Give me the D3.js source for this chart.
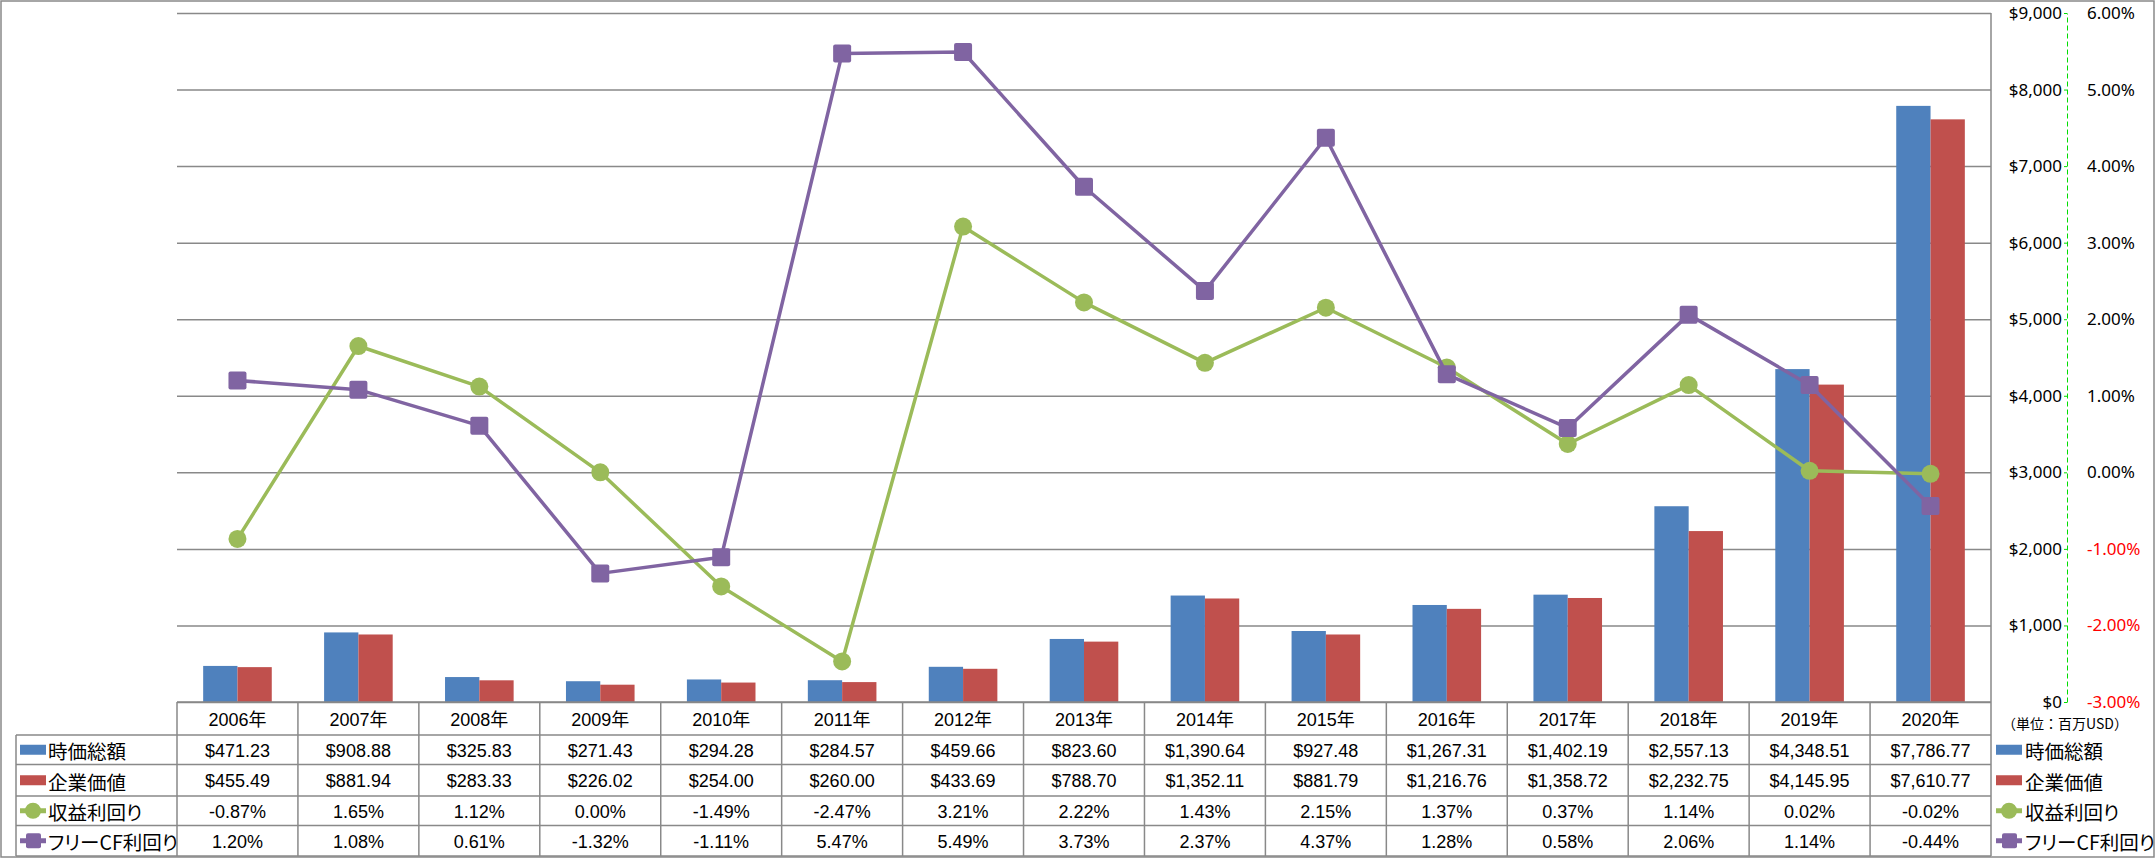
<!DOCTYPE html>
<html><head><meta charset="utf-8">
<script src="https://cdn.jsdelivr.net/npm/d3@7"></script>
<style>body{margin:0;background:#fff} svg{display:block}</style>
</head><body><svg id="c" width="2156" height="858"></svg>
<script>
const categories = ["2006年","2007年","2008年","2009年","2010年","2011年","2012年","2013年","2014年","2015年","2016年","2017年","2018年","2019年","2020年"];
const marketCap = [471.23,908.88,325.83,271.43,294.28,284.57,459.66,823.60,1390.64,927.48,1267.31,1402.19,2557.13,4348.51,7786.77];
const enterpriseValue = [455.49,881.94,283.33,226.02,254.00,260.00,433.69,788.70,1352.11,881.79,1216.76,1358.72,2232.75,4145.95,7610.77];
const earningsYield = [-0.87,1.65,1.12,0.00,-1.49,-2.47,3.21,2.22,1.43,2.15,1.37,0.37,1.14,0.02,-0.02];
const fcfYield = [1.20,1.08,0.61,-1.32,-1.11,5.47,5.49,3.73,2.37,4.37,1.28,0.58,2.06,1.14,-0.44];
const seriesNames = ["時価総額","企業価値","収益利回り","フリーCF利回り"];
const dollarTicks = [0,1000,2000,3000,4000,5000,6000,7000,8000,9000];
const pctTicks = [-3,-2,-1,0,1,2,3,4,5,6];
const unitLabel = "（単位：百万USD）";

const colors = {mc:"#4F81BD", ev:"#C0504D", ey:"#9BBB59", fcf:"#8064A2"};
const gridColor = "#898989";
const svg = d3.select("#c");
const L=177, R=1991, T=13, B=702;
const rowsY = [702, 735, 764.5, 796, 825.5, 856];
const latin = "'Liberation Sans', 'Noto Sans CJK JP', sans-serif";
const cjk = "'Noto Sans CJK JP', sans-serif";

const loc = d3.formatLocale({decimal:".", thousands:",", grouping:[3], currency:["$",""], minus:"-"});
const fmtD = loc.format("$,.2f");
const fmtP = loc.format(".2%");
const fmtAx = loc.format("$,");

const x = d3.scaleBand().domain(categories).range([L,R]).padding(0);
const xi = d3.scaleBand().domain(["mc","ev"]).range([0,x.bandwidth()]).paddingInner(0).paddingOuter(0.763);
const y = d3.scaleLinear().domain([0,9000]).range([B,T]);
const y2 = d3.scaleLinear().domain([-3,6]).range([B,T]);
const cx = d => x(d) + x.bandwidth()/2;

// outer border
svg.append("rect").attr("x",1).attr("y",1).attr("width",2153).attr("height",856)
  .attr("fill","#fff").attr("stroke",gridColor).attr("stroke-width",1.5);

// gridlines
const grid = svg.append("g").attr("transform",`translate(${L},0)`)
  .call(d3.axisLeft(y).tickValues(dollarTicks).tickSize(-(R-L)).tickFormat(""));
grid.select(".domain").remove();
grid.selectAll("line").attr("stroke",gridColor).attr("stroke-width",1.5);

// right plot border
svg.append("line").attr("x1",R).attr("x2",R).attr("y1",T).attr("y2",rowsY[5])
  .attr("stroke",gridColor).attr("stroke-width",1.5);

// bars
const barData = categories.map((c,i)=>({c, mc:marketCap[i], ev:enterpriseValue[i]}));
const bg = svg.append("g");
["mc","ev"].forEach(k=>{
  bg.selectAll(null).data(barData).enter().append("rect")
    .attr("x",d=>x(d.c)+xi(k)).attr("width",xi.bandwidth())
    .attr("y",d=>y(d[k])).attr("height",d=>B-y(d[k]))
    .attr("fill",colors[k]);
});

// lines
function drawLine(vals,color,marker){
  const pts = categories.map((c,i)=>({c,v:vals[i]}));
  const g = svg.append("g");
  g.append("path").datum(pts)
    .attr("d",d3.line().x(d=>cx(d.c)).y(d=>y2(d.v)))
    .attr("fill","none").attr("stroke",color).attr("stroke-width",3.5).attr("stroke-linejoin","round");
  if(marker==="circle"){
    g.selectAll(null).data(pts).enter().append("circle")
      .attr("cx",d=>cx(d.c)).attr("cy",d=>y2(d.v)).attr("r",9).attr("fill",color);
  } else {
    g.selectAll(null).data(pts).enter().append("rect")
      .attr("x",d=>cx(d.c)-9).attr("y",d=>y2(d.v)-9).attr("width",18).attr("height",18)
      .attr("rx",2).attr("fill",color);
  }
}
drawLine(earningsYield,colors.ey,"circle");
drawLine(fcfYield,colors.fcf,"square");

// table lines
const tl = svg.append("g").attr("stroke",gridColor).attr("stroke-width",1.5);
tl.append("line").attr("x1",L).attr("x2",R).attr("y1",rowsY[0]).attr("y2",rowsY[0]);
rowsY.slice(1).forEach(yy=>tl.append("line").attr("x1",16).attr("x2",R).attr("y1",yy).attr("y2",yy));
categories.forEach(c=>tl.append("line").attr("x1",x(c)).attr("x2",x(c)).attr("y1",rowsY[0]).attr("y2",rowsY[5]));
tl.append("line").attr("x1",16).attr("x2",16).attr("y1",rowsY[1]).attr("y2",rowsY[5]);

// table text
const mid = i => (rowsY[i]+rowsY[i+1])/2;
const tt = svg.append("g").attr("font-family",latin).attr("font-size",18).attr("fill","#000")
  .attr("text-anchor","middle").attr("dominant-baseline","central");
tt.selectAll(null).data(categories).enter().append("text")
  .attr("x",d=>cx(d)).attr("y",mid(0)+1).text(d=>d);
const rows = [marketCap.map(fmtD), enterpriseValue.map(fmtD),
  earningsYield.map(v=>fmtP(v/100)), fcfYield.map(v=>fmtP(v/100))];
rows.forEach((r,ri)=>{
  tt.selectAll(null).data(r).enter().append("text")
    .attr("x",(d,i)=>cx(categories[i])).attr("y",mid(ri+1)+1).text(d=>d);
});

// legend keys (in table and on right)
const keyInfo = [{k:"mc",t:"bar"},{k:"ev",t:"bar"},{k:"ey",t:"circle"},{k:"fcf",t:"square"}];
function legend(x0,textX){
  keyInfo.forEach((ki,i)=>{
    const yy = mid(i+1);
    const g = svg.append("g");
    if(ki.t==="bar"){
      g.append("rect").attr("x",x0).attr("y",yy-5).attr("width",26).attr("height",10).attr("fill",colors[ki.k]);
    } else {
      g.append("line").attr("x1",x0).attr("x2",x0+26).attr("y1",yy).attr("y2",yy)
        .attr("stroke",colors[ki.k]).attr("stroke-width",5);
      if(ki.t==="circle") g.append("circle").attr("cx",x0+13).attr("cy",yy).attr("r",8).attr("fill",colors[ki.k]);
      else g.append("rect").attr("x",x0+6).attr("y",yy-7.5).attr("width",15).attr("height",15).attr("rx",2).attr("fill",colors[ki.k]);
    }
    g.append("text").attr("x",textX).attr("y",yy+1).attr("dominant-baseline","central")
      .attr("font-family",cjk).attr("font-size",19.5).attr("fill","#000")
      .style("font-feature-settings","'palt'").text(seriesNames[i]);
  });
}
legend(20,48);
legend(1996,2025);

// axes on right
const AX = 2067;
const ax1 = svg.append("g").attr("transform",`translate(${AX},0)`)
  .call(d3.axisLeft(y).tickValues(dollarTicks).tickSize(3).tickSizeOuter(0).tickPadding(2).tickFormat(fmtAx));
ax1.select(".domain").attr("stroke","#00DD00").attr("stroke-dasharray","5,3");
ax1.selectAll(".tick line").attr("stroke","#00DD00");
ax1.selectAll(".tick text").attr("font-family","'Noto Sans', sans-serif").attr("font-size",17).attr("fill","#000");

const ax2 = svg.append("g").attr("transform",`translate(${AX},0)`)
  .call(d3.axisRight(y2).tickValues(pctTicks).tickSize(0).tickPadding(20).tickFormat(d=>fmtP(d/100)));
ax2.select(".domain").remove();
ax2.selectAll(".tick text").attr("font-family","'Noto Sans', sans-serif").attr("font-size",17)
  .attr("fill",d=>d<0?"#FF0000":"#000");

// unit label
svg.append("text").attr("x",2065).attr("y",723).attr("text-anchor","middle").attr("dominant-baseline","central")
  .attr("font-family",cjk).attr("font-size",14).attr("fill","#000").text(unitLabel);
</script></body></html>
